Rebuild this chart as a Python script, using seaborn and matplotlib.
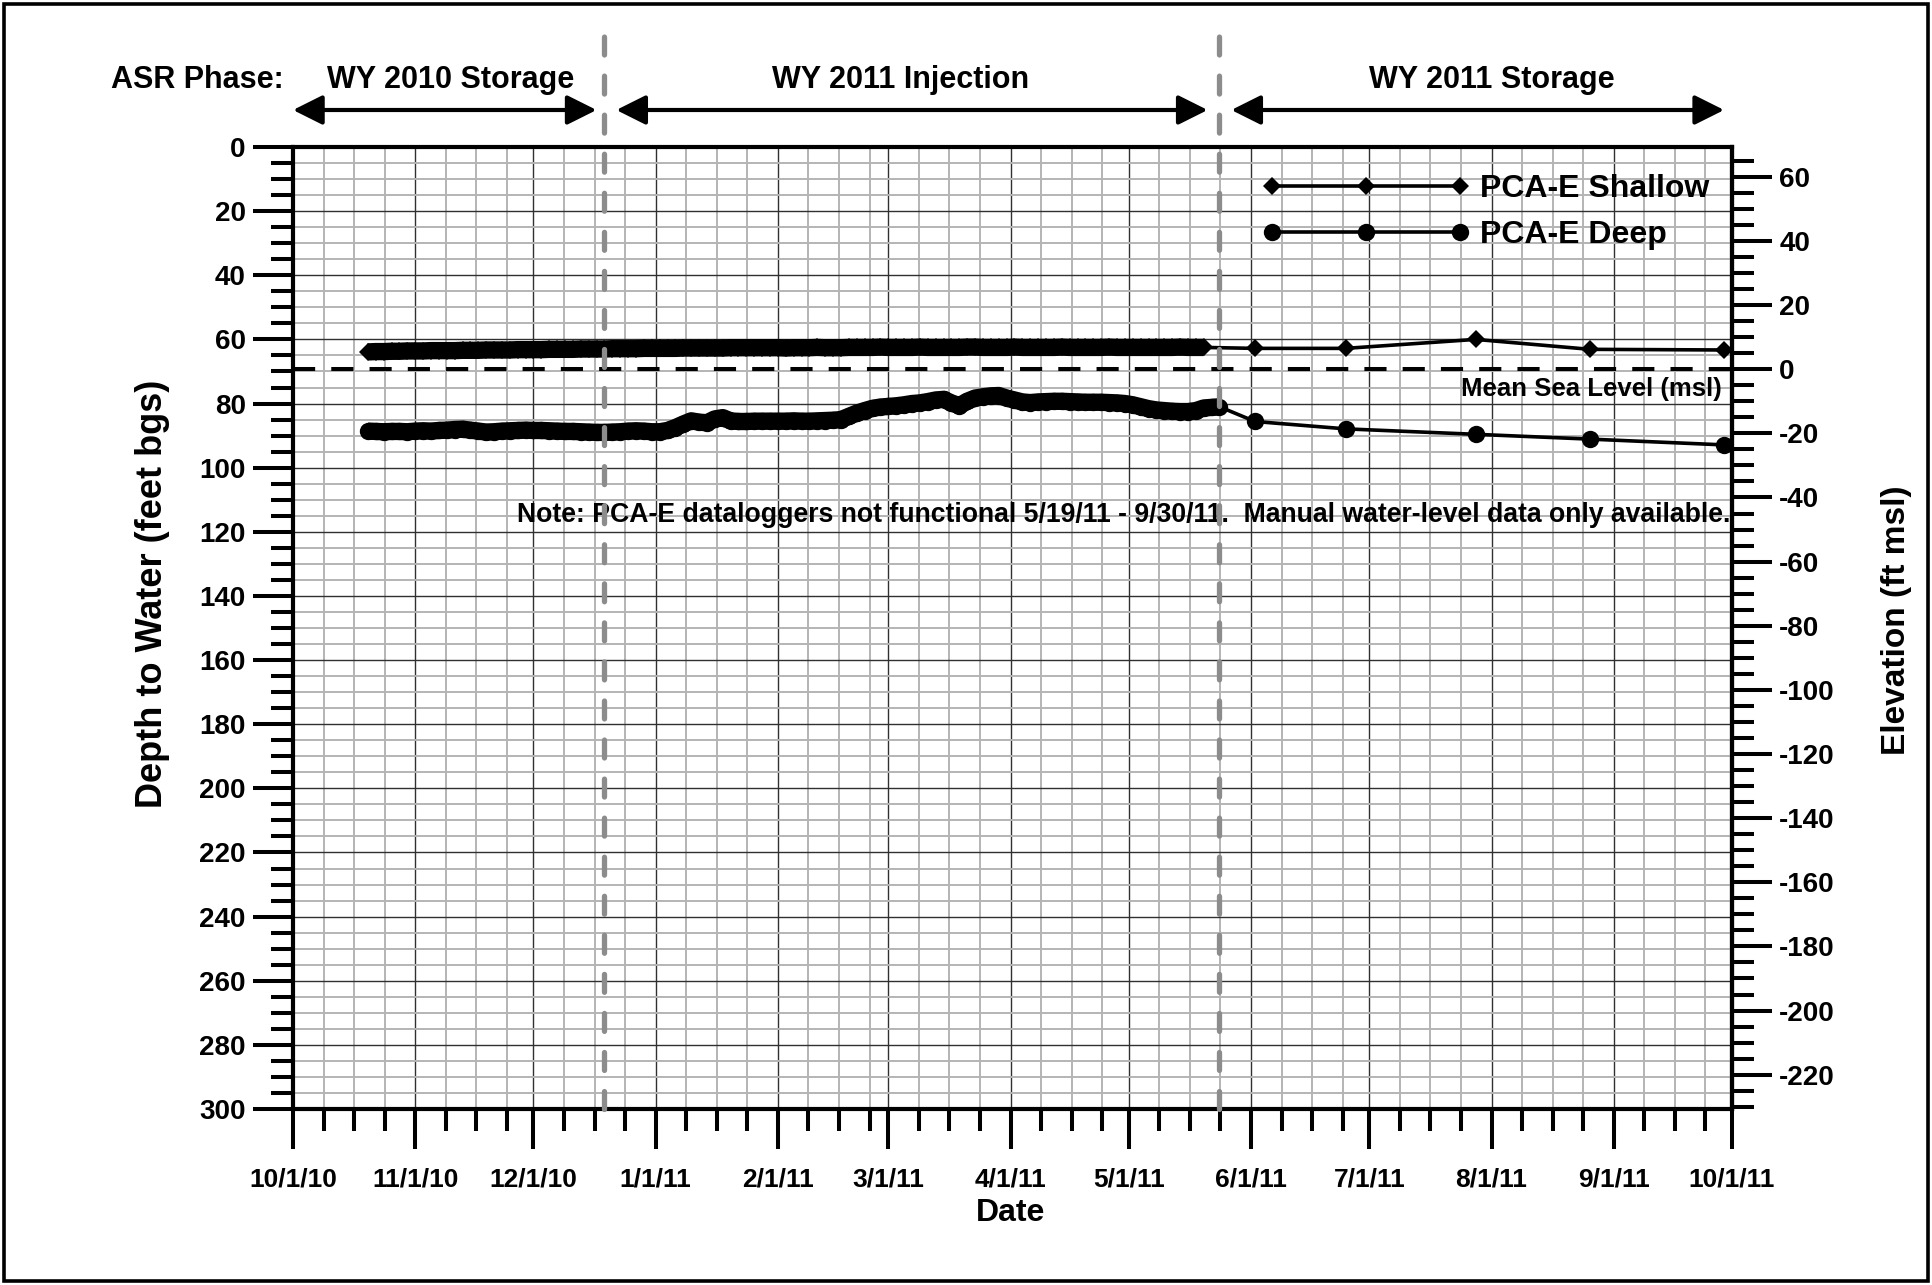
import matplotlib
matplotlib.use("Agg")
import matplotlib.pyplot as plt
import matplotlib.dates as mdates
import matplotlib.transforms as mtransforms
from matplotlib.ticker import FixedLocator, FuncFormatter, MultipleLocator
from matplotlib.lines import Line2D
from matplotlib.patches import Rectangle
import numpy as np
import pandas as pd
import seaborn as sns

# ---------------------------------------------------------------- data
# Ground surface elevation of PCA-E (ft msl); elevation = GROUND_ELEV - depth
GROUND_ELEV = 69.3

# Datalogger records, one reading every 2 days starting 10/20/2010 (feet bgs)
LOGGER_START = "2010-10-20"
shallow_logger_ft = [
    63.9, 63.8, 63.8, 63.7, 63.7, 63.6, 63.6, 63.6, 63.5, 63.5,
    63.5, 63.5, 63.4, 63.4, 63.4, 63.3, 63.3, 63.3, 63.3, 63.2,
    63.2, 63.2, 63.2, 63.1, 63.1, 63.1, 63.1, 63.0, 63.0, 63.0,
    63.0, 62.9, 62.9, 62.9, 62.9, 62.8, 62.8, 62.8, 62.8, 62.8,
    62.7, 62.7, 62.7, 62.7, 62.7, 62.7, 62.6, 62.6, 62.6, 62.6,
    62.6, 62.6, 62.6, 62.7, 62.6, 62.6, 62.6, 62.5, 62.6, 62.6,
    62.6, 62.5, 62.5, 62.5, 62.5, 62.4, 62.5, 62.5, 62.5, 62.5,
    62.4, 62.5, 62.5, 62.5, 62.5, 62.5, 62.4, 62.4, 62.5, 62.5,
    62.5, 62.5, 62.4, 62.5, 62.5, 62.5, 62.5, 62.5, 62.4, 62.5,
    62.5, 62.5, 62.5, 62.5, 62.4, 62.5, 62.5, 62.5, 62.5, 62.5,
    62.5, 62.5, 62.5, 62.4, 62.5, 62.5, 62.5,
]
deep_logger_ft = [
    88.6, 88.7, 88.8, 88.7, 88.7, 88.8, 88.6, 88.5, 88.6, 88.4,
    88.3, 88.1, 88.0, 88.3, 88.6, 88.9, 88.8, 88.6, 88.5, 88.4,
    88.3, 88.4, 88.4, 88.5, 88.6, 88.7, 88.7, 88.8, 88.9, 89.0,
    89.0, 88.9, 88.8, 88.6, 88.5, 88.6, 88.8, 88.8, 88.4, 87.5,
    86.4, 85.4, 85.8, 86.0, 84.8, 84.4, 85.4, 85.6, 85.6, 85.5,
    85.5, 85.5, 85.5, 85.5, 85.4, 85.5, 85.5, 85.4, 85.3, 85.2,
    85.0, 84.0, 83.0, 82.2, 81.5, 81.1, 80.9, 80.7, 80.4, 80.0,
    79.8, 79.4, 78.9, 78.7, 79.8, 80.7, 79.3, 78.3, 77.9, 77.6,
    77.5, 78.3, 78.9, 79.5, 79.7, 79.5, 79.4, 79.3, 79.3, 79.4,
    79.5, 79.6, 79.6, 79.6, 79.7, 79.8, 80.0, 80.4, 81.0, 81.6,
    82.0, 82.2, 82.4, 82.5, 82.5, 82.2, 81.4, 81.2, 81.0,
]

# Manual water-level measurements (feet bgs)
manual_dates = ["2011-06-02", "2011-06-25", "2011-07-28", "2011-08-26", "2011-09-29"]
shallow_manual_ft = [62.8, 62.8, 60.0, 63.1, 63.3]
deep_manual_ft = [85.6, 87.9, 89.6, 91.1, 92.9]

series_names = ["PCA-E Shallow", "PCA-E Deep"]

# ASR phase boundaries and labels
phase_breaks = ["2010-12-19", "2011-05-24"]
phase_labels = ["WY 2010 Storage", "WY 2011 Injection", "WY 2011 Storage"]
phase_label_dates = ["2010-11-10", "2011-03-04", "2011-08-01"]
phase_arrows = [("2010-10-01", "2010-12-17"),
                ("2010-12-22", "2011-05-21"),
                ("2011-05-27", "2011-09-29")]

x_start, x_end = "2010-10-01", "2011-10-01"
month_ticks = pd.date_range(x_start, x_end, freq="MS")

# ---------------------------------------------------------------- frames
def logger_frame(values):
    return pd.DataFrame({
        "date": pd.date_range(LOGGER_START, periods=len(values), freq="2D"),
        "depth": values,
    })

def full_frame(logger_vals, manual_vals):
    man = pd.DataFrame({"date": pd.to_datetime(manual_dates), "depth": manual_vals})
    return pd.concat([logger_frame(logger_vals), man], ignore_index=True)

shallow_log = logger_frame(shallow_logger_ft)
deep_log = logger_frame(deep_logger_ft)
shallow_all = full_frame(shallow_logger_ft, shallow_manual_ft)
deep_all = full_frame(deep_logger_ft, deep_manual_ft)

# ---------------------------------------------------------------- style
sns.set_theme(style="white")
plt.rcParams["font.family"] = ["Liberation Sans", "DejaVu Sans"]
plt.rcParams["font.weight"] = "bold"
plt.rcParams["axes.unicode_minus"] = False
for key in ("text.color", "axes.labelcolor", "xtick.color", "ytick.color",
            "xtick.labelcolor", "ytick.labelcolor"):
    plt.rcParams[key] = "black"

W, H = 1932, 1285
fig = plt.figure(figsize=(W / 100, H / 100), dpi=100)
fig.patch.set_facecolor("white")
ax = fig.add_axes([293 / W, 1 - 1109 / H, 1439 / W, 962 / H])
ax.set_facecolor("white")

XTICK_FS = 19
YTICK_FS = 20
SPINE_LW = 3.0

# ---------------------------------------------------------------- series
diamond_ms = 9.0
circle_ms = 12.5
thin_lw = 2.6
band_lw = 12.5

sns.lineplot(data=shallow_all, x="date", y="depth", ax=ax, color="black",
             lw=thin_lw, marker="D", markersize=diamond_ms, markeredgewidth=0,
             estimator=None, sort=False, zorder=5)
sns.lineplot(data=shallow_log, x="date", y="depth", ax=ax, color="black",
             lw=band_lw, estimator=None, sort=False, zorder=5,
             solid_capstyle="butt")
sns.lineplot(data=deep_all, x="date", y="depth", ax=ax, color="black",
             lw=thin_lw, marker="o", markersize=circle_ms, markeredgewidth=0,
             estimator=None, sort=False, zorder=5)
sns.lineplot(data=deep_log, x="date", y="depth", ax=ax, color="black",
             lw=band_lw, estimator=None, sort=False, zorder=5,
             solid_capstyle="butt")

# Mean sea level
ax.axhline(GROUND_ELEV, color="black", lw=2.9, dashes=(5.5, 4.0), zorder=4)
ax.text(0.993, 75.6, "Mean Sea Level (msl)",
        transform=mtransforms.blended_transform_factory(ax.transAxes, ax.transData),
        ha="right", va="center", fontsize=18.5, fontweight="bold", zorder=6)

# ---------------------------------------------------------------- axes
ax.set_xlim(pd.Timestamp(x_start), pd.Timestamp(x_end))
ax.set_ylim(300, 0)
ax.yaxis.set_major_locator(MultipleLocator(20))
ax.yaxis.set_minor_locator(MultipleLocator(5))

major_x = [mdates.date2num(d) for d in month_ticks]
minor_x = []
for a, b in zip(major_x[:-1], major_x[1:]):
    for k in (1, 2, 3):
        if a + 7.75 * k < b - 0.5:
            minor_x.append(a + 7.75 * k)
ax.xaxis.set_major_locator(FixedLocator(major_x))
ax.xaxis.set_minor_locator(FixedLocator(minor_x))

def date_label(v, pos=None):
    d = mdates.num2date(v)
    return f"{d.month}/{d.day}/{d.strftime('%y')}"

ax.xaxis.set_major_formatter(FuncFormatter(date_label))
ax.set_xlabel("")
ax.set_ylabel("")

ax.grid(which="major", color="#303030", lw=1.0, zorder=0)
ax.grid(which="minor", color="#b4b4b4", lw=1.4, zorder=0)
ax.set_axisbelow(True)

for s in ax.spines.values():
    s.set_linewidth(SPINE_LW)
    s.set_color("black")
    s.set_zorder(6)

ax.tick_params(which="major", direction="out", length=29, width=2.9,
               color="black", left=True, bottom=True)
ax.tick_params(which="minor", direction="out", length=16, width=2.9,
               color="black", left=True, bottom=True)
ax.tick_params(axis="x", which="major", labelsize=XTICK_FS, pad=13)
ax.tick_params(axis="y", which="major", labelsize=YTICK_FS, pad=5)
for lab in ax.get_xticklabels() + ax.get_yticklabels():
    lab.set_fontweight("bold")
    lab.set_color("black")

# Elevation axis on the right
sec = ax.secondary_yaxis("right", functions=(lambda d: GROUND_ELEV - d,
                                             lambda e: GROUND_ELEV - e))
sec.set_yticks(list(range(-220, 61, 20)))
sec.yaxis.set_minor_locator(FixedLocator(list(range(-230, 70, 5))))
sec.tick_params(which="major", direction="out", length=29, width=2.9,
                labelsize=YTICK_FS, pad=5, color="black", labelcolor="black")
sec.tick_params(which="minor", direction="out", length=16, width=2.9, color="black")
sec.spines["right"].set_linewidth(SPINE_LW)
sec.yaxis.set_major_formatter(FuncFormatter(lambda v, p: f"{v:.0f}"))
for lab in sec.get_yticklabels():
    lab.set_fontweight("bold")

# Axis titles
fig.text(153 / W, 1 - 594 / H, "Depth to Water (feet bgs)", rotation=90,
         ha="center", va="center", fontsize=26, fontweight="bold")
fig.text(1897 / W, 1 - 620 / H, "Elevation (ft msl)", rotation=90,
         ha="center", va="center", fontsize=24, fontweight="bold")
fig.text(1011 / W, 1 - 1213 / H, "Date", ha="center", va="center",
         fontsize=23, fontweight="bold")

# ---------------------------------------------------------------- phases
blend = mtransforms.blended_transform_factory(ax.transData, ax.transAxes)
for d in phase_breaks:
    ax.axvline(pd.Timestamp(d), ymin=0, ymax=1.136, color="#8c8c8c", lw=3.8,
               dashes=(3.4, 4.0), dash_capstyle="round", clip_on=False, zorder=7)

arrow_y = (1109 - 110) / 962
text_y = (1109 - 80) / 962
for (a, b) in phase_arrows:
    ax.annotate("", xy=(mdates.date2num(pd.Timestamp(b)), arrow_y),
                xytext=(mdates.date2num(pd.Timestamp(a)), arrow_y),
                xycoords=blend, textcoords=blend, annotation_clip=False,
                arrowprops=dict(arrowstyle="<|-|>,head_length=0.9,head_width=0.45",
                                color="black", lw=3.0, shrinkA=0, shrinkB=0,
                                mutation_scale=20))
for lab, d in zip(phase_labels, phase_label_dates):
    ax.text(mdates.date2num(pd.Timestamp(d)), text_y, lab, transform=blend,
            ha="center", va="center", fontsize=22, fontweight="bold", clip_on=False)
fig.text(111 / W, 1 - 80 / H, "ASR Phase:", ha="left", va="center",
         fontsize=22, fontweight="bold")

# Note
ax.text(0.9986, 114.8,
        "Note: PCA-E dataloggers not functional 5/19/11 - 9/30/11.  Manual water-level data only available.",
        transform=mtransforms.blended_transform_factory(ax.transAxes, ax.transData),
        ha="right", va="center", fontsize=19.2, fontweight="bold", zorder=6)

# ---------------------------------------------------------------- legend
handles = [
    Line2D([], [], color="black", lw=thin_lw, marker="D", markersize=diamond_ms, markeredgewidth=0),
    Line2D([], [], color="black", lw=thin_lw, marker="o", markersize=circle_ms, markeredgewidth=0),
]
leg = ax.legend(handles, series_names, loc="upper left",
                bbox_to_anchor=((1262 - 293) / 1439, (1109 - 174) / 962),
                frameon=False, numpoints=3, handlelength=6.5, handletextpad=0.32,
                labelspacing=0.5, borderpad=0, borderaxespad=0,
                prop={"size": 23, "weight": "bold"})
leg.set_zorder(8)
for t in leg.get_texts():
    t.set_color("black")

# Outer border
fig.add_artist(Rectangle((4 / W, 4 / H), (W - 8) / W, (H - 8) / H,
                         transform=fig.transFigure, fill=False, lw=2.6,
                         ec="black", zorder=10))

fig.savefig("out.png", dpi=100, facecolor="white")
